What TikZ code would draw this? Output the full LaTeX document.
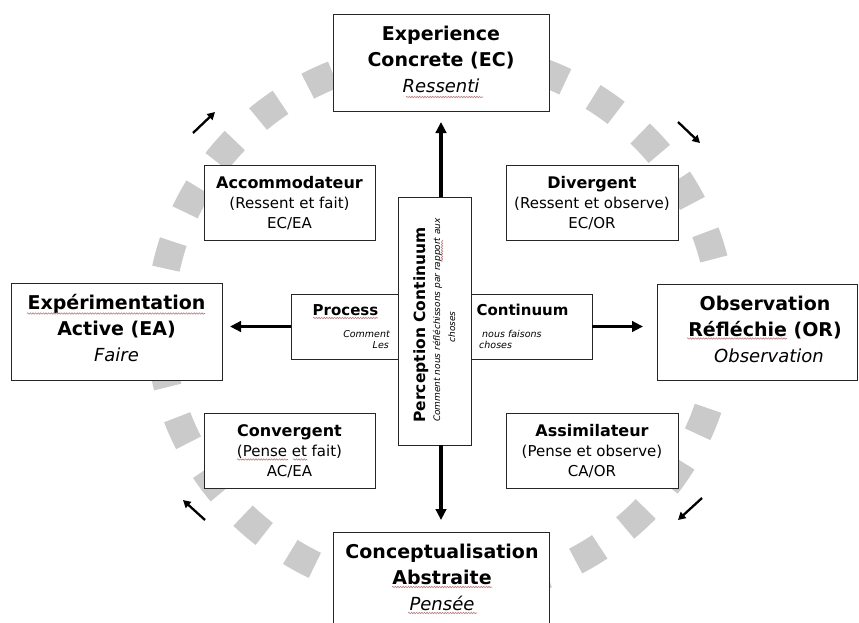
\documentclass[tikz,border=0pt]{standalone}
\usepackage{fontspec}
\setmainfont{DejaVu Sans}
\usetikzlibrary{arrows.meta,decorations.pathmorphing}
\definecolor{ringgray}{RGB}{202,202,202}
\definecolor{spellc}{RGB}{185,125,125}
\newcommand{\fBigB}{\fontsize{19}{22}\selectfont\bfseries}
\newcommand{\fBigI}{\fontsize{18}{22}\selectfont\itshape}
\newcommand{\fMidB}{\fontsize{16}{19}\selectfont\bfseries}
\newcommand{\fMid}{\fontsize{15}{18}\selectfont}
\newcommand{\fCenB}{\fontsize{15.5}{18}\selectfont\bfseries}
\newcommand{\fSmI}{\fontsize{9.5}{11}\selectfont\itshape}
\newcommand{\fPercI}{\fontsize{9}{11}\selectfont\itshape}
\begin{document}
\begin{tikzpicture}[x=1pt,y=-1pt,
  box/.style={draw=black!85,line width=1pt,fill=white,inner sep=0pt,outer sep=0pt,rectangle},
  txt/.style={anchor=base,inner sep=0pt},
  bigarrow/.style={line width=3.6pt,-{Triangle[length=11pt,width=10.5pt]}},
  cyclearrow/.style={line width=2.3pt,-{Triangle[length=7.5pt,width=8pt]}},
  spell/.style={draw=spellc,line width=0.6pt,decorate,decoration={snake,amplitude=0.7pt,segment length=2.6pt}},
  ring/.style={draw=ringgray,line width=28pt,dash pattern=on 28pt off 31.69pt,dash phase=53.69pt}]
\useasboundingbox (0,0) rectangle (859,622);

% dashed ring
\draw[ring] (441,324) ellipse [x radius=281pt, y radius=270pt];

% boxes
\node[box,minimum width=216pt,minimum height=97pt] (ec) at (441,62.5) {};
\node[box,minimum width=211pt,minimum height=97pt] (ea) at (116.5,331.5) {};
\node[box,minimum width=200pt,minimum height=96pt] (or) at (757,332) {};
\node[box,minimum width=216pt,minimum height=98pt] (ca) at (441,581) {};
\node[box,minimum width=171pt,minimum height=75pt] (acc) at (289.5,202.5) {};
\node[box,minimum width=172pt,minimum height=75pt] (div) at (592,202.5) {};
\node[box,minimum width=171pt,minimum height=75pt] (conv) at (289.5,450.5) {};
\node[box,minimum width=172pt,minimum height=75pt] (assim) at (592,450.5) {};
\node[box,minimum width=107pt,minimum height=65pt] (proc) at (344.5,326.5) {};
\node[box,minimum width=121pt,minimum height=65pt] (cont) at (531.5,326.5) {};
\node[box,minimum width=73pt,minimum height=248pt] (perc) at (434.5,321) {};

% main arrows
\draw[bigarrow,shorten >=11pt] (perc.north -| ec.south) -- (ec.south);
\draw[bigarrow,shorten >=12pt] (perc.south -| ca.north) -- (ca.north);
\draw[bigarrow,shorten >=8pt] (proc.west) -- (proc.west -| ea.east);
\draw[bigarrow,shorten >=14pt] (cont.east) -- (cont.east -| or.west);

% cycle arrows
\coordinate (tla) at (193,133); \coordinate (tlb) at (215,112);
\coordinate (tra) at (678,122); \coordinate (trb) at (700,143);
\coordinate (bra) at (702,498); \coordinate (brb) at (678,520);
\coordinate (bla) at (205,520); \coordinate (blb) at (183,500);
\draw[cyclearrow] (tla) -- (tlb);
\draw[cyclearrow] (tra) -- (trb);
\draw[cyclearrow] (bra) -- (brb);
\draw[cyclearrow] (bla) -- (blb);

% big box texts
\node[txt,font=\fBigB] (ect1) at (441,40) {Experience};
\node[txt,font=\fBigB] (ect2) at (441,66) {Concrete (EC)};
\node[txt,font=\fBigI] (ect3) at (441,92) {Ressenti};

\node[txt,font=\fBigB] (eat1) at (116.5,309) {Expérimentation};
\node[txt,font=\fBigB] (eat2) at (116.5,335) {Active (EA)};
\node[txt,font=\fBigI] (eat3) at (116.5,361) {Faire};

\node[txt,font=\fBigB] (ort1) at (765,310) {Observation};
\node[txt,font=\fBigB] (ort2) at (765,336) {Réfléchie (OR)};
\node[txt,font=\fBigI] (ort3) at (769,362) {Observation};

\node[txt,font=\fBigB] (cat1) at (442,558) {Conceptualisation};
\node[txt,font=\fBigB] (cat2) at (442,584) {Abstraite};
\node[txt,font=\fBigI] (cat3) at (442,610) {Pensée};

% small box texts
\node[txt,font=\fMidB] (acct1) at (289.5,188) {Accommodateur};
\node[txt,font=\fMid] (acct2) at (289.5,208.5) {(Ressent et fait)};
\node[txt,font=\fMid] (acct3) at (289.5,228.5) {EC/EA};

\node[txt,font=\fMidB] (divt1) at (592,188) {Divergent};
\node[txt,font=\fMid] (divt2) at (592,208.5) {(Ressent et observe)};
\node[txt,font=\fMid] (divt3) at (592,228.5) {EC/OR};

\node[txt,font=\fMidB] (convt1) at (289.5,436) {Convergent};
\node[txt,font=\fMid] (convt2) at (289.5,456.5) {(Pense et fait)};
\node[txt,font=\fMid] (convt3) at (289.5,476.5) {AC/EA};

\node[txt,font=\fMidB] (assimt1) at (592,436) {Assimilateur};
\node[txt,font=\fMid] (assimt2) at (592,456.5) {(Pense et observe)};
\node[txt,font=\fMid] (assimt3) at (592,476.5) {CA/OR};

% centre texts
\node[txt,font=\fMid\bfseries] (proct1) at (345.5,315) {Process};
\node[anchor=base east,inner sep=0pt,font=\fSmI] (proct2) at (390,337) {Comment};
\node[anchor=base east,inner sep=0pt,font=\fSmI] (proct3) at (389,348) {Les};

\node[txt,font=\fMid\bfseries] (contt1) at (522.5,315) {Continuum};
\node[anchor=base west,inner sep=0pt,font=\fSmI] (contt2) at (482,337) {nous faisons};
\node[anchor=base west,inner sep=0pt,font=\fSmI] (contt3) at (479,348) {choses};

\node[txt,rotate=90,font=\fCenB] (perct1) at (425,325) {Perception Continuum};
\node[txt,rotate=90,font=\fPercI] (perct2) at (440,320) {Comment nous réfléchissons par rapport aux};
\node[txt,rotate=90,font=\fPercI] (perct3) at (455,327) {choses};

% spelling squiggles
\draw[spell] (406,97) -- (483,97);
\draw[spell] (27,313.5) -- (205,313.5);
\draw[spell] (687,338.5) -- (787,338.5);
\draw[spell] (392,587) -- (492,587);
\draw[spell] (408,613) -- (477,613);
\draw[spell] (313,318) -- (378,318);
\draw[spell] (237,459.5) -- (288,459.5);
\draw[spell] (293,459.5) -- (307,459.5);
\draw[spell] (442,240) -- (442,262);
\end{tikzpicture}
\end{document}
